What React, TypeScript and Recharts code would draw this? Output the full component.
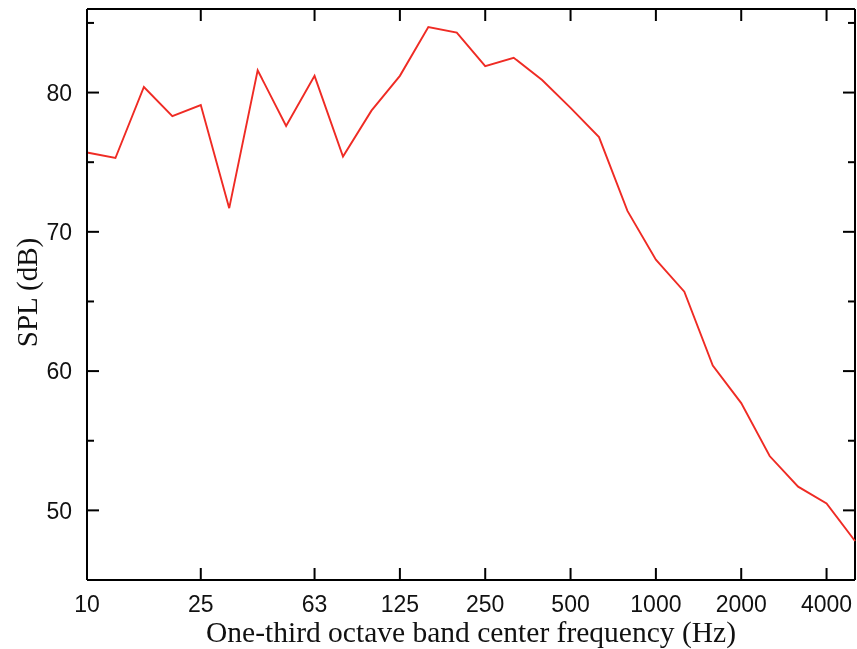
import React from 'react';
import { LineChart, Line, XAxis, YAxis, Label, ReferenceLine } from 'recharts';

// One-third octave band centre frequencies (Hz)
const bands = [
  '10', '12.5', '16', '20', '25', '31.5', '40', '50', '63', '80', '100', '125', '160', '200',
  '250', '315', '400', '500', '630', '800', '1000', '1250', '1600', '2000', '2500', '3150', '4000', '5000',
];

// Sound pressure level per band (dB)
const spl = [
  75.7, 75.3, 80.4, 78.3, 79.1, 71.7, 81.6, 77.6, 81.2, 75.4, 78.7, 81.2, 84.7, 84.3,
  81.9, 82.5, 80.9, 78.9, 76.8, 71.5, 68.0, 65.7, 60.4, 57.7, 53.9, 51.7, 50.5, 47.8,
];

// Bands that carry a label on the frequency axis
const labelledBands = ['10', '25', '63', '125', '250', '500', '1000', '2000', '4000'];

const yMajor = [50, 60, 70, 80];
const yTicks = [50, 55, 60, 65, 70, 75, 80, 85];
const yDomain: [number, number] = [45, 86];

const data = bands.map((b, i) => ({ i, band: b, spl: spl[i] }));
const xTicks = labelledBands.map((b) => bands.indexOf(b));
const xDomain: [number, number] = [0, bands.length - 1];

// Chart geometry
const W = 849;
const H = 641;
const MARGIN = { top: 1, right: 2, bottom: 0, left: 0 };
const Y_AXIS_W = 79;
const X_AXIS_H = 69;
const PLOT_W = W - MARGIN.right - MARGIN.left - Y_AXIS_W;
const PLOT_H = H - MARGIN.top - MARGIN.bottom - X_AXIS_H;

const sansFont = '"Liberation Sans", Arial, sans-serif';
const serifFont = '"Liberation Serif", "Times New Roman", serif';
const INK = '#111';
const axisStroke = { stroke: '#000', strokeWidth: 2 };

// Frame ticks point inwards and are repeated on the opposite side of the box.
function LeftTick(props: any) {
  const { x, y, payload } = props;
  const major = yMajor.includes(payload.value);
  const len = major ? 12 : 7;
  return (
    <g>
      <line x1={x} x2={x + len} y1={y} y2={y} stroke="#000" strokeWidth={2} />
      <line x1={x + PLOT_W} x2={x + PLOT_W - len} y1={y} y2={y} stroke="#000" strokeWidth={2} />
      {major && (
        <text x={x - 15} y={y} dy="0.36em" textAnchor="end" fill={INK} fontSize={23} fontFamily={sansFont}>
          {payload.value}
        </text>
      )}
    </g>
  );
}

function BottomTick(props: any) {
  const { x, y, payload } = props;
  return (
    <g>
      <line x1={x} x2={x} y1={y} y2={y - 12} stroke="#000" strokeWidth={2} />
      <line x1={x} x2={x} y1={y - PLOT_H} y2={y - PLOT_H + 12} stroke="#000" strokeWidth={2} />
      <text x={x} y={y + 32} textAnchor="middle" fill={INK} fontSize={23} fontFamily={sansFont}>
        {bands[payload.value]}
      </text>
    </g>
  );
}

export default function App() {
  return (
    <div style={{ position: 'fixed', left: 8, top: 8 }}>
      <LineChart width={W} height={H} data={data} margin={MARGIN}>
        <XAxis
          xAxisId="bottom"
          dataKey="i"
          type="number"
          domain={xDomain}
          ticks={xTicks}
          interval={0}
          orientation="bottom"
          height={X_AXIS_H}
          axisLine={axisStroke}
          tickLine={false}
          tickSize={0}
          tickMargin={0}
          tick={<BottomTick />}
        >
          <Label
            value="One-third octave band center frequency (Hz)"
            position="insideBottom"
            offset={7}
            style={{ fill: INK, fontSize: 29.5, fontFamily: serifFont }}
          />
        </XAxis>
        <YAxis
          yAxisId="left"
          type="number"
          domain={yDomain}
          ticks={yTicks}
          interval={0}
          width={Y_AXIS_W}
          axisLine={axisStroke}
          tickLine={false}
          tickSize={0}
          tickMargin={0}
          tick={<LeftTick />}
        >
          <Label
            value="SPL (dB)"
            angle={-90}
            position="center"
            dx={-20.5}
            dy={-2}
            style={{ fill: INK, fontSize: 29, fontFamily: serifFont, textAnchor: 'middle' }}
          />
        </YAxis>
        <ReferenceLine xAxisId="bottom" yAxisId="left" y={yDomain[1]} stroke="#000" strokeWidth={2} />
        <ReferenceLine xAxisId="bottom" yAxisId="left" x={xDomain[1]} stroke="#000" strokeWidth={2} />
        <Line
          xAxisId="bottom"
          yAxisId="left"
          type="linear"
          dataKey="spl"
          stroke="#ef2b24"
          strokeWidth={1.9}
          dot={false}
          activeDot={false}
          isAnimationActive={false}
        />
      </LineChart>
    </div>
  );
}
